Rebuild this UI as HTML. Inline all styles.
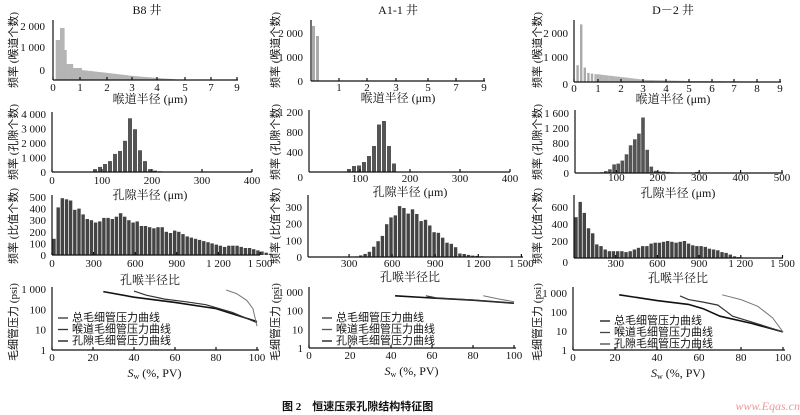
<!DOCTYPE html>
<html><head><meta charset="utf-8"><style>
html,body{margin:0;padding:0;background:#fff;width:800px;height:415px;overflow:hidden}
svg text{font-family:"Liberation Serif","Noto Serif CJK SC",serif;fill:#111}
.c{font-family:"Liberation Serif","Noto Sans CJK SC",sans-serif;font-size:11px}
</style></head><body>
<svg id="s" width="800" height="415" xmlns="http://www.w3.org/2000/svg"></svg>
<script>
var S=document.getElementById('s'),o='';
function T(x,y,t,sz,anc,extra){o+='<text x="'+x+'" y="'+y+'" font-size="'+(sz||11)+'" text-anchor="'+(anc||'middle')+'" '+(extra||'')+'>'+t+'</text>';}
function L(x1,y1,x2,y2,w,c){o+='<line x1="'+x1+'" y1="'+y1+'" x2="'+x2+'" y2="'+y2+'" stroke="'+(c||'#111')+'" stroke-width="'+(w||1.2)+'"/>';}
function R(x,y,w,h,c){if(h>0)o+='<rect x="'+x.toFixed(1)+'" y="'+(y-h).toFixed(1)+'" width="'+w+'" height="'+h.toFixed(1)+'" fill="'+c+'"/>';}
function P(pts,c,w){o+='<polyline fill="none" stroke="'+c+'" stroke-width="'+(w||1.4)+'" points="'+pts.map(function(p){return p[0].toFixed(1)+','+p[1].toFixed(1)}).join(' ')+'"/>';}
function YT(x,y,t){o+='<text class="c" x="0" y="0" text-anchor="middle" transform="translate('+x+','+y+') rotate(-90)">'+t+'</text>';}
function axes(x0,x1,yt,yb){L(x0,yt,x0,yb);L(x0,yb,x1,yb);}
function pw(xs,vs,v){for(var i=0;i<xs.length-1;i++){if(v<=xs[i+1]){var f=(v-xs[i])/(xs[i+1]-xs[i]);return vs[i]+f*(vs[i+1]-vs[i]);}}return vs[vs.length-1];}
T(147,14,'B8 井',12);T(398,14,'A1-1 井',12);T(673,14,'D－2 井',12);
// ===== Col1 B8 =====
var k1=[0,1,2,3,4,5,7,9],p1=[53,80,107,132,157,185,211,237];
for(var r=0.1;r<4.6;r+=0.08){var h=r<0.2?40:r<0.35?52:r<0.5?30:r<0.7?16:r<1?12:r<2?10-(r-1)*3:r<3?7-(r-2)*3:4-(r-3)*2;R(pw(k1,p1,r),80,2.4,h,'#b4b4b4');}
axes(53,238,20,80);
k1.forEach(function(k,i){L(p1[i],80,p1[i],77);T(p1[i],91,k);});
T(45,30,'2 000',11,'end');T(45,51,'1 000',11,'end');T(45,74,'0',11,'end');
T(150,103,'喉道半径 (μm)',12);YT(17,50,'频率 (喉道个数)');
var v2=[0.2,0.35,0.55,0.75,1.25,1.45,2.15,3.7,2.95,1.5,0.75,0.2,0.1,0.05];
v2.forEach(function(v,i){R(52+(82+i*10)*0.5,172,4,v*14.5,'#555');});
axes(52,252,112,172);
[0,100,200,300,400].forEach(function(k){var x=52+k*0.5;L(x,172,x,169);T(x,184,k);});
[[4,'4 000'],[3,'3 000'],[2,'2 000'],[1,'1 000'],[0,'0']].forEach(function(a){T(46,176-a[0]*14.5,a[1],11,'end');});
T(150,199,'孔隙半径 (μm)',12);YT(17,142,'频率 (孔隙个数)');
var v3=[140,410,490,480,470,390,400,350,310,300,280,290,320,320,310,330,360,330,300,280,290,250,250,240,230,240,240,200,190,210,200,180,160,150,140,130,120,110,100,90,80,70,80,80,80,70,60,60,50,40,30,20,10];
v3.forEach(function(v,i){R(52+i*30*0.1387+0.3,255,3.4,v*0.116,'#444');});
axes(52,260,195,255);
[[0,'0'],[300,'300'],[600,'600'],[900,'900'],[1200,'1 200'],[1500,'1 500']].forEach(function(a){var x=52+a[0]*0.1387;L(x,255,x,252);T(x,267,a[1]);});
[500,400,300,200,100,0].forEach(function(v){T(46,259-v*0.116,v,11,'end');});
T(150,284,'孔喉半径比',12);YT(17,226,'频率 (比值个数)');
function cap(x0,sx,yb,sy,curves,leg,lx,ly){axes(x0,x0+100*sx+2,287,yb);
[0,20,40,60,80,100].forEach(function(k){var x=x0+k*sx;L(x,yb,x,yb-3);T(x,yb+11,k);});
[[1000,'1 000'],[100,'100'],[10,'10'],[1,'1']].forEach(function(a){T(x0-6,yb+4-Math.log10(a[0])*sy,a[1],11,'end');});
curves.forEach(function(c){P(c.p.map(function(q){return [x0+q[0]*sx,yb-Math.log10(q[1])*sy]}),c.c,c.w);});
var names=['总毛细管压力曲线','喉道毛细管压力曲线','孔隙毛细管压力曲线'];
names.forEach(function(n,i){L(lx,ly+i*11.5,lx+10,ly+i*11.5,1.3,leg[i]);o+='<text class="c" font-size="9" x="'+(lx+14)+'" y="'+(ly+3+i*11.5)+'">'+n+'</text>';});
o+='<text x="'+(x0+50*sx)+'" y="'+(yb+27)+'" font-size="12" text-anchor="middle"><tspan font-style="italic">S</tspan><tspan font-size="8" dy="2">w</tspan><tspan dy="-2"> (%, PV)</tspan></text>';}
cap(52,2.05,350,20.3,[
{p:[[25,750],[40,400],[60,220],[80,110],[100,25]],c:'#111',w:1.6},
{p:[[40,800],[46,500],[55,320],[65,240],[75,170],[88,70],[100,22]],c:'#333',w:1.2},
{p:[[85,900],[90,600],[95,280],[98,110],[100,15]],c:'#777',w:1}],['#333','#333','#111'],58,318);
YT(17,322,'毛细管压力 (psi)');
// ===== Col2 A1-1 =====
R(312,81,3,55,'#aaa');R(316,81,3,45,'#aaa');
var k2=[0,1,2,3,5,7,9],p2=[310,339,367,396,428,456,484];
axes(311,485,20,81);
k2.forEach(function(k,i){if(i>0){L(p2[i],81,p2[i],78);T(p2[i],91,k);}});
T(303,37,'2 000',11,'end');T(303,61,'1 000',11,'end');T(303,85,'0',11,'end');
T(398,102,'喉道半径 (μm)',12);YT(279,50,'频率 (喉道个数)');
var a2=[10,60,120,130,200,320,520,950,1020,520,170];
a2.forEach(function(v,i){R(310+(64+i*10)*0.5,172,4,v*0.05,'#555');});
axes(309,510,110,172);
[[100,'100'],[200,'200'],[300,'300'],[400,'400']].forEach(function(a){var x=310+a[0]*0.5;L(x,172,x,169);T(x,182,a[1]);});
T(303,181,'0',11,'end');
[[1200,'1 200'],[800,'800'],[400,'400']].forEach(function(a){T(303,176-a[0]*0.05,a[1],11,'end');});
T(410,196,'孔隙半径 (μm)',12);YT(279,142,'频率 (孔隙个数)');
for(var r=100;r<1260;r+=30){var v=r<650?290*Math.exp(-Math.pow((r-650)/150,2)):290*Math.exp(-Math.pow((r-650)/300,2));v*=1+0.08*Math.sin(r*0.07);if(r>1050)v*=0.5;R(306+r*0.1436,257,3.4,v*0.1667,'#444');}
axes(308,523,195,257);
[[300,'300'],[600,'600'],[900,'900'],[1200,'1 200'],[1500,'1 500']].forEach(function(a){var x=306+a[0]*0.1436;L(x,257,x,254);T(x,267,a[1]);});
[300,200,100,0].forEach(function(v){T(302,261-v*0.1667,v,11,'end');});
T(410,281,'孔喉半径比',12);YT(279,226,'频率 (比值个数)');
cap(309,2.05,348,18.7,[
{p:[[42,620],[60,470],[80,360],[100,250]],c:'#111',w:1.6},
{p:[[57,620],[62,480],[80,370],[100,250]],c:'#333',w:1.2},
{p:[[85,620],[92,430],[100,300]],c:'#777',w:1}],['#333','#555','#111'],322,318);
YT(279,322,'毛细管压力 (psi)');
// ===== Col3 D-2 =====
var k3=[0,1,2,3,4,5,6,7,8,9],p3=[574,598,621,643,666,689,712,734,757,780];
var d1=[[0.1,700],[0.25,2400],[0.4,600],[0.55,380],[0.7,350]];
d1.forEach(function(a){R(pw(k3,p3,a[0]),82,2.4,a[1]*0.024,'#aaa');});
for(var r=0.85;r<9;r+=0.1){var v=r<3?330-(r-0.85)*110:r<5?90-(r-3)*25:40-(r-5)*6;R(pw(k3,p3,r),82,2.4,v*0.024,'#b4b4b4');}
axes(574,781,20,82);
k3.forEach(function(k,i){L(p3[i],82,p3[i],79);T(p3[i],92,k);});
T(568,37,'2 000',11,'end');T(568,61,'1 000',11,'end');T(568,88,'0',11,'end');
T(673,103,'喉道半径 (μm)',12);YT(541,50,'频率 (喉道个数)');
var d2=[[60,20],[70,50],[80,100],[90,230],[100,250],[110,330],[120,500],[130,740],[140,900],[150,1050],[160,1480],[170,620],[180,170],[190,60],[200,40],[210,40],[220,30],[230,20],[260,10],[290,30]];
d2.forEach(function(a){R(575+a[0]*0.414,173,3.6,a[1]*0.0375,'#555');});
axes(575,783,110,173);
[100,200,300,400,500].forEach(function(k){var x=575+k*0.414;L(x,173,x,170);T(x,181,k);});
T(569,177,'0',11,'end');
[[1600,'1 600'],[1200,'1 200'],[800,'800'],[400,'400']].forEach(function(a){T(569,177-a[0]*0.0375,a[1],11,'end');});
T(678,197,'孔隙半径 (μm)',12);YT(541,142,'频率 (孔隙个数)');
var d3=[480,660,530,350,290,160,140,100,80,80,80,80,70,80,100,120,140,140,170,180,180,190,200,190,180,190,200,170,150,140,140,130,110,100,90,70,60,40,20,10];
d3.forEach(function(v,i){R(574+i*30*0.139+0.3,258,3.4,v*0.085,'#444');});
axes(574,783,195,258);
[[300,'300'],[600,'600'],[900,'900'],[1200,'1 200'],[1500,'1 500']].forEach(function(a){var x=574+a[0]*0.139;L(x,258,x,255);T(x,267,a[1]);});
T(568,266,'0',11,'end');
[600,400,200].forEach(function(v){T(568,262-v*0.085,v,11,'end');});
T(678,282,'孔喉半径比',12);YT(541,226,'频率 (比值个数)');
cap(573,2.1,350,19,[
{p:[[22,800],[40,400],[55,250],[62,150],[70,60],[85,25],[100,9]],c:'#111',w:1.6},
{p:[[51,700],[55,450],[62,330],[69,230],[72,130],[76,60],[85,30],[100,9]],c:'#333',w:1.2},
{p:[[71,800],[80,450],[88,200],[95,50],[100,9]],c:'#777',w:1}],['#111','#444','#444'],600,321);
YT(541,322,'毛细管压力 (psi)');
o+='<text class="c" x="282" y="410" font-size="12" font-weight="bold" text-anchor="start">图 2　恒速压汞孔隙结构特征图</text>';
o+='<text x="800" y="410" font-size="12" font-style="italic" text-anchor="end" style="fill:#e99">www.Eqas.cn</text>';
S.innerHTML=o;
</script>
</body></html>
